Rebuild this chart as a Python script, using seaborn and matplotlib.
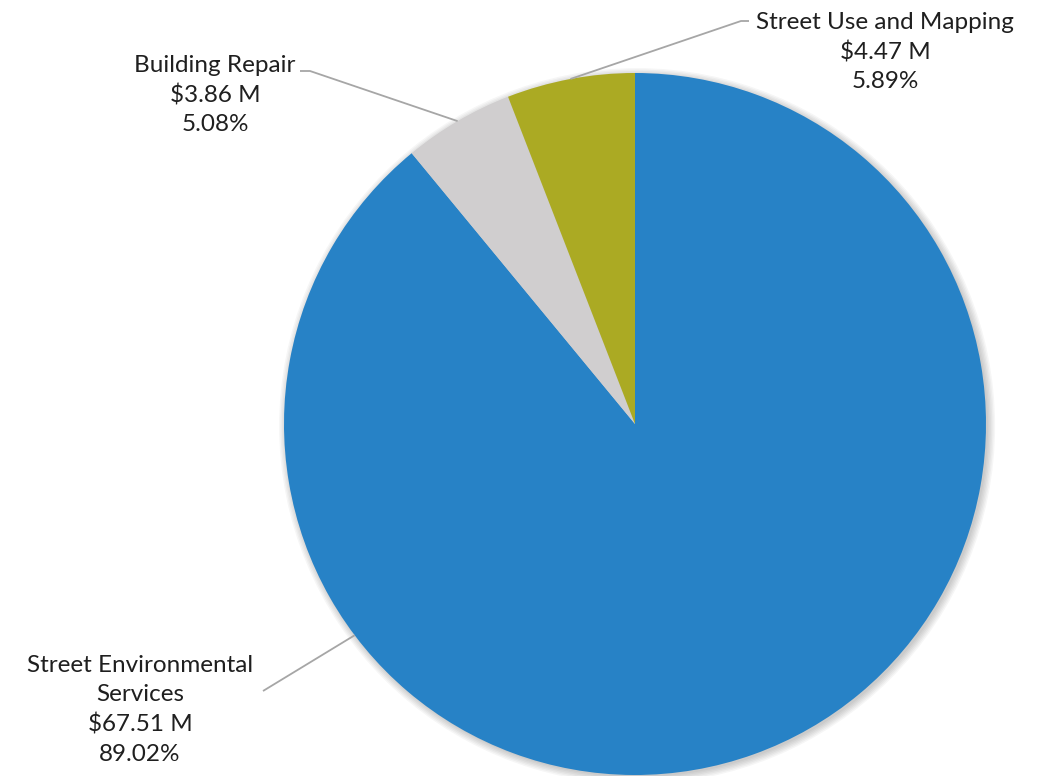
import numpy as np
import matplotlib
matplotlib.use("Agg")
import matplotlib.pyplot as plt
import seaborn as sns
from matplotlib.patches import Circle

categories = ["Street Environmental Services", "Building Repair", "Street Use and Mapping"]
label_text = ["Street Environmental\nServices", "Building Repair", "Street Use and Mapping"]
values = [67.512, 3.856, 4.467]  # $ millions
colors = ["#2782C6", "#D0CECF", "#ABAA23"]

sns.set_theme(style="white")
plt.rcParams["font.family"] = ["Lato", "DejaVu Sans"]

W, H = 1043, 776
CX, CY, R = 635, 424, 351

fig = plt.figure(figsize=(W / 100, H / 100), dpi=100)
ax = fig.add_axes([0, 0, 1, 1])


def px(x, y):
    return ((x - CX) / R, (CY - y) / R)


# soft shadow
for k in range(6):
    ax.add_patch(Circle((0.006, -0.006), 1.0 + 0.004 * k, facecolor="#000000",
                        alpha=0.035, edgecolor="none", zorder=0))

wedges, _ = ax.pie(values, colors=colors, startangle=90, counterclock=False,
                   radius=1.0, center=(0, 0), wedgeprops=dict(linewidth=0))
for w in wedges:
    w.set_zorder(2)

ax.set_xlim(-CX / R, (W - CX) / R)
ax.set_ylim(-(H - CY) / R, CY / R)
ax.set_aspect("equal")
ax.axis("off")

total = sum(values)
pcts = [v / total * 100 for v in values]

# label positions (pixel centers) and leader starts
text_pos = [(140, 710), (215, 95), (885, 52)]
leader_start = [[(263, 691)], [(300, 71), (310, 71)], [(749, 21), (741, 21)]]
anchor_angles = []
for i, w in enumerate(wedges):
    mid = (w.theta1 + w.theta2) / 2
    anchor_angles.append(mid)
anchor_angles[0] = 217.0

for i in range(len(categories)):
    txt = f"{label_text[i]}\n${values[i]:.2f} M\n{pcts[i]:.2f}%"
    tx, ty = px(*text_pos[i])
    ax.text(tx, ty, txt, ha="center", va="center", multialignment="center",
            fontsize=17.5, color="#1F1F1F", linespacing=1.47, zorder=5)
    pts = [px(*p) for p in leader_start[i]]
    a = np.deg2rad(anchor_angles[i])
    pts.append((np.cos(a), np.sin(a)))
    xs, ys = zip(*pts)
    ax.plot(xs, ys, color="#A6A6A6", lw=1.3, zorder=3, solid_capstyle="butt")

fig.savefig("out.png", dpi=100)
